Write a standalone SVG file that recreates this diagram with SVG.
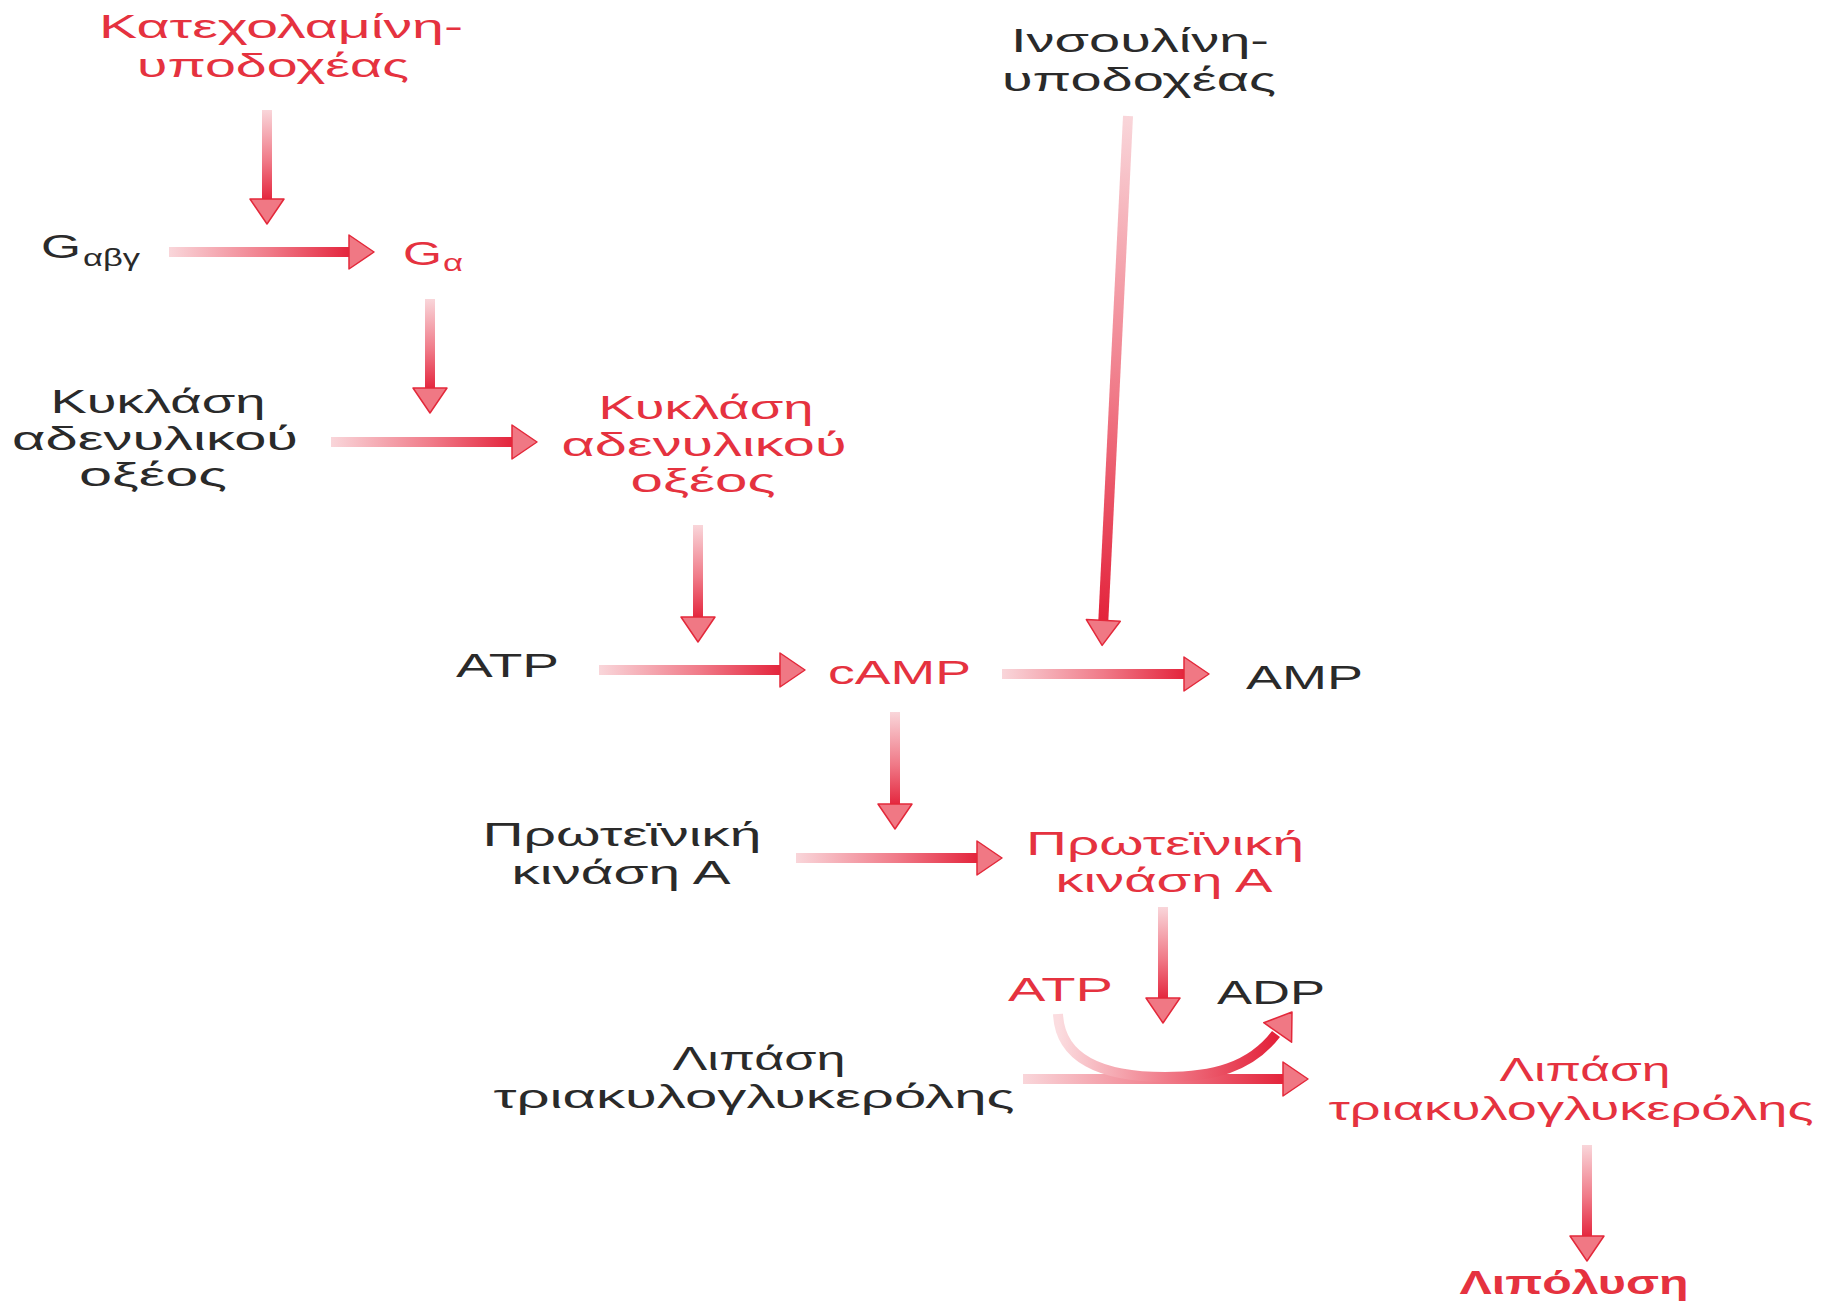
<svg xmlns="http://www.w3.org/2000/svg" xmlns:xlink="http://www.w3.org/1999/xlink" width="1823" height="1304" viewBox="0 0 1823 1304">
<style>
text{font-family:"Liberation Sans","DejaVu Sans",Arial,sans-serif;font-size:34px;}
.r{fill:#e5323f;}
.k{fill:#2a2a2a;}
.b{font-weight:bold;}
.c{text-anchor:middle;}
.head{fill:#f07884;stroke:#e3283a;stroke-width:1.5;stroke-linejoin:round;}
</style>
<defs>
<linearGradient id="gh" x1="0" y1="0" x2="1" y2="0">
<stop offset="0" stop-color="#f9d6da"/>
<stop offset="0.55" stop-color="#f07a88"/>
<stop offset="1" stop-color="#e3223a"/>
</linearGradient>
<linearGradient id="gc" x1="0" y1="0" x2="1" y2="0">
<stop offset="0" stop-color="#fbdde0"/>
<stop offset="0.5" stop-color="#f07a88"/>
<stop offset="1" stop-color="#e3223a"/>
</linearGradient>
<path id="ah" d="M0,0 L-25,-17 L-25,17 Z"/>
</defs>
<rect width="1823" height="1304" fill="#ffffff"/>

<g id="connectors">
<g transform="translate(267,110) rotate(90)"><rect x="0" y="-5" width="92" height="10" fill="url(#gh)"/><use xlink:href="#ah" class="head" x="114"/></g>
<g transform="translate(169,252)"><rect x="0" y="-5" width="183" height="10" fill="url(#gh)"/><use xlink:href="#ah" class="head" x="205"/></g>
<g transform="translate(430,299) rotate(90)"><rect x="0" y="-5" width="92" height="10" fill="url(#gh)"/><use xlink:href="#ah" class="head" x="114"/></g>
<g transform="translate(331,442)"><rect x="0" y="-5" width="184" height="10" fill="url(#gh)"/><use xlink:href="#ah" class="head" x="206"/></g>
<g transform="translate(698,525) rotate(90)"><rect x="0" y="-5" width="95" height="10" fill="url(#gh)"/><use xlink:href="#ah" class="head" x="117"/></g>
<g transform="translate(1128,116) rotate(92.8)"><rect x="0" y="-5" width="508" height="10" fill="url(#gh)"/><use xlink:href="#ah" class="head" x="530"/></g>
<g transform="translate(599,670)"><rect x="0" y="-5" width="184" height="10" fill="url(#gh)"/><use xlink:href="#ah" class="head" x="206"/></g>
<g transform="translate(1002,674)"><rect x="0" y="-5" width="185" height="10" fill="url(#gh)"/><use xlink:href="#ah" class="head" x="207"/></g>
<g transform="translate(895,712) rotate(90)"><rect x="0" y="-5" width="95" height="10" fill="url(#gh)"/><use xlink:href="#ah" class="head" x="117"/></g>
<g transform="translate(796,858)"><rect x="0" y="-5" width="184" height="10" fill="url(#gh)"/><use xlink:href="#ah" class="head" x="206"/></g>
<g transform="translate(1163,907) rotate(90)"><rect x="0" y="-5" width="94" height="10" fill="url(#gh)"/><use xlink:href="#ah" class="head" x="116"/></g>
<g transform="translate(1023,1079)"><rect x="0" y="-5" width="263" height="10" fill="url(#gh)"/><use xlink:href="#ah" class="head" x="285"/></g>
<path d="M1058,1014 C1060,1058 1100,1077 1165,1077 C1212,1077 1250,1068 1276,1034" fill="none" stroke="url(#gc)" stroke-width="10"/>
<use xlink:href="#ah" class="head" transform="translate(1292,1012) rotate(-55)"/>
<g transform="translate(1587,1145) rotate(90)"><rect x="0" y="-5" width="94" height="10" fill="url(#gh)"/><use xlink:href="#ah" class="head" x="116"/></g>
</g>

<g id="n-catecholamine-receptor" class="r">
<text class="c" x="281" y="38" textLength="364" lengthAdjust="spacingAndGlyphs">Κατεχολαμίνη-</text>
<text class="c" x="273" y="77" textLength="272" lengthAdjust="spacingAndGlyphs">υποδοχέας</text>
</g>
<g id="n-insulin-receptor" class="k">
<text class="c" x="1140" y="52" textLength="258" lengthAdjust="spacingAndGlyphs">Ινσουλίνη-</text>
<text class="c" x="1139" y="91" textLength="274" lengthAdjust="spacingAndGlyphs">υποδοχέας</text>
</g>
<g id="n-gabg" class="k">
<text x="41" y="258" textLength="40" lengthAdjust="spacingAndGlyphs">G</text>
<text x="83" y="266" style="font-size:24px" textLength="57" lengthAdjust="spacingAndGlyphs">αβγ</text>
</g>
<g id="n-ga" class="r">
<text x="403" y="265" textLength="39" lengthAdjust="spacingAndGlyphs">G</text>
<text x="443" y="271" style="font-size:24px" textLength="20" lengthAdjust="spacingAndGlyphs">α</text>
</g>
<g id="n-ac-inactive" class="k">
<text class="c" x="158" y="413" textLength="215" lengthAdjust="spacingAndGlyphs">Κυκλάση</text>
<text class="c" x="155" y="450" textLength="286" lengthAdjust="spacingAndGlyphs">αδενυλικού</text>
<text class="c" x="153" y="486" textLength="148" lengthAdjust="spacingAndGlyphs">οξέος</text>
</g>
<g id="n-ac-active" class="r">
<text class="c" x="706" y="419" textLength="215" lengthAdjust="spacingAndGlyphs">Κυκλάση</text>
<text class="c" x="704" y="456" textLength="285" lengthAdjust="spacingAndGlyphs">αδενυλικού</text>
<text class="c" x="703" y="492" textLength="145" lengthAdjust="spacingAndGlyphs">οξέος</text>
</g>
<g id="n-atp1" class="k"><text x="456" y="677" textLength="103" lengthAdjust="spacingAndGlyphs">ATP</text></g>
<g id="n-camp" class="r"><text x="828" y="684" textLength="143" lengthAdjust="spacingAndGlyphs">cAMP</text></g>
<g id="n-amp" class="k"><text x="1246" y="689" textLength="117" lengthAdjust="spacingAndGlyphs">AMP</text></g>
<g id="n-pka-inactive" class="k">
<text class="c" x="622" y="846" textLength="279" lengthAdjust="spacingAndGlyphs">Πρωτεϊνική</text>
<text class="c" x="621" y="884" textLength="219" lengthAdjust="spacingAndGlyphs">κινάση Α</text>
</g>
<g id="n-pka-active" class="r">
<text class="c" x="1165" y="855" textLength="278" lengthAdjust="spacingAndGlyphs">Πρωτεϊνική</text>
<text class="c" x="1164" y="892" textLength="217" lengthAdjust="spacingAndGlyphs">κινάση Α</text>
</g>
<g id="n-atp2" class="r"><text x="1008" y="1001" textLength="105" lengthAdjust="spacingAndGlyphs">ATP</text></g>
<g id="n-adp" class="k"><text x="1217" y="1004" textLength="108" lengthAdjust="spacingAndGlyphs">ADP</text></g>
<g id="n-hsl-inactive" class="k">
<text class="c" x="759" y="1070" textLength="173" lengthAdjust="spacingAndGlyphs">Λιπάση</text>
<text class="c" x="754" y="1108" textLength="521" lengthAdjust="spacingAndGlyphs">τριακυλογλυκερόλης</text>
</g>
<g id="n-hsl-active" class="r">
<text class="c" x="1585" y="1081" textLength="171" lengthAdjust="spacingAndGlyphs">Λιπάση</text>
<text class="c" x="1571" y="1120" textLength="485" lengthAdjust="spacingAndGlyphs">τριακυλογλυκερόλης</text>
</g>
<g id="n-lipolysis" class="r">
<text class="c b" x="1574" y="1294" textLength="229" lengthAdjust="spacingAndGlyphs">Λιπόλυση</text>
</g>
</svg>
